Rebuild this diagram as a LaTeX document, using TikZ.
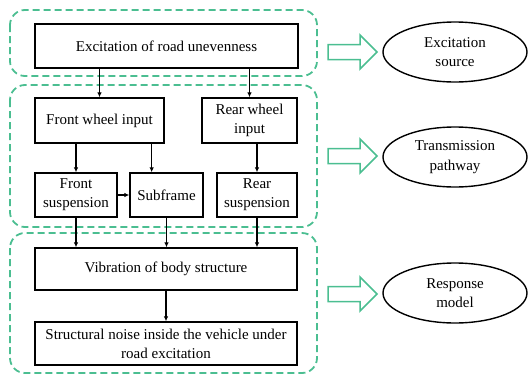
\documentclass[tikz,border=0pt]{standalone}
\usepackage{fontspec}
\setmainfont{Liberation Serif}
\usetikzlibrary{arrows.meta,shapes.geometric}
\definecolor{grn}{RGB}{75,190,145}
\tikzset{
  box/.style={draw=black, line width=1.3pt, rectangle, inner sep=0pt, align=center,
    font=\fontsize{15}{19}\selectfont},
  oval/.style={draw=black, line width=1.4pt, ellipse, inner sep=0pt, align=center,
    minimum width=144pt, minimum height=60pt, font=\fontsize{15}{19.5}\selectfont},
  grp/.style={draw=grn, line width=1.8pt, dash pattern=on 7pt off 4pt, rounded corners=15pt},
  hollow/.style={draw=grn, line width=1.5pt, line join=miter},
  arr/.style={line width=1.4pt, -{Latex[length=5pt,width=4.5pt]}}
}
\begin{document}
\begin{tikzpicture}[x=1pt,y=-1pt]
\useasboundingbox (0,0) rectangle (528,378);
% groups
\draw[grp] (10,10) rectangle (317,76);
\draw[grp] (10,85) rectangle (317,227);
\draw[grp] (10,233) rectangle (317,373);
% boxes
\node[box, minimum width=263pt, minimum height=44pt] (road) at (166.5,46) {Excitation of road unevenness};
\node[box, minimum width=129pt, minimum height=45pt] (fw) at (99.5,120.5) {Front wheel input};
\node[box, minimum width=95pt, minimum height=45pt] (rw) at (249.5,120.5) {Rear wheel\\input};
\node[box, minimum width=82pt, minimum height=44pt] (fs) at (76,195) {Front\\suspension};
\node[box, minimum width=73pt, minimum height=44pt] (sub) at (166.5,195) {Subframe};
\node[box, minimum width=80pt, minimum height=44pt] (rs) at (257,195) {Rear\\suspension};
\node[box, minimum width=262pt, minimum height=42pt] (vib) at (166,269) {Vibration of body structure};
\node[box, minimum width=262pt, minimum height=43pt] (noise) at (166,343.5) {Structural noise inside the vehicle under\\road excitation};
% connectors
\draw[arr] (road.south -| fw.north) -- (fw.north);
\draw[arr] (road.south -| rw.north) -- (rw.north);
\draw[arr] (fw.south -| fs.north) -- (fs.north);
\draw[arr] ([xshift=-13pt]fw.south east) -- ([xshift=-13pt]fw.south east |- sub.north);
\draw[arr] (rw.south -| rs.north) -- (rs.north);
\draw[arr] (fs.east) -- (sub.west);
\draw[arr] (fs.south) -- (fs.south |- vib.north);
\draw[arr] (sub.south) -- (sub.south |- vib.north);
\draw[arr] (rs.south) -- (rs.south |- vib.north);
\draw[arr] (vib.south) -- (noise.north);
% ellipses
\node[oval] (e1) at (455,52) {Excitation\\source};
\node[oval] (e2) at (455,157) {Transmission\\pathway};
\node[oval] (e3) at (455,293) {Response\\model};
% hollow arrows
\foreach \c in {52,156,294}{
  \draw[hollow] (328,\c-7.5) -- (360,\c-7.5) -- (360,\c-17) -- (377,\c) -- (360,\c+17) -- (360,\c+7.5) -- (328,\c+7.5) -- cycle;
}
\end{tikzpicture}
\end{document}
